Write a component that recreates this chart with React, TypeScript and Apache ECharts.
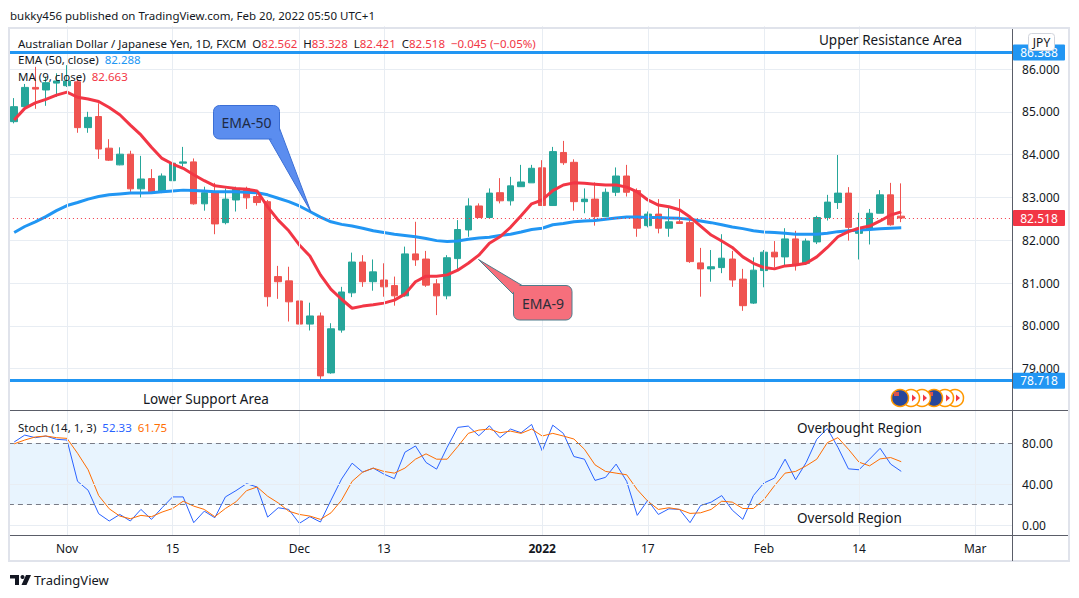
import React, { useEffect, useRef } from 'react';
import * as echarts from 'echarts';

const FONT = "'Noto Sans', 'Open Sans', sans-serif";

const dates = [
  '2021-10-25','2021-10-26','2021-10-27','2021-10-28','2021-10-29',
  '2021-11-01','2021-11-02','2021-11-03','2021-11-04','2021-11-05',
  '2021-11-08','2021-11-09','2021-11-10','2021-11-11','2021-11-12',
  '2021-11-15','2021-11-16','2021-11-17','2021-11-18','2021-11-19',
  '2021-11-22','2021-11-23','2021-11-24','2021-11-25','2021-11-26',
  '2021-11-29','2021-11-30',
  '2021-12-01','2021-12-02','2021-12-03',
  '2021-12-06','2021-12-07','2021-12-08','2021-12-09','2021-12-10',
  '2021-12-13','2021-12-14','2021-12-15','2021-12-16','2021-12-17',
  '2021-12-20','2021-12-21','2021-12-22','2021-12-23','2021-12-24',
  '2021-12-27','2021-12-28','2021-12-29','2021-12-30','2021-12-31',
  '2022-01-03','2022-01-04','2022-01-05','2022-01-06','2022-01-07',
  '2022-01-10','2022-01-11','2022-01-12','2022-01-13','2022-01-14',
  '2022-01-17','2022-01-18','2022-01-19','2022-01-20','2022-01-21',
  '2022-01-24','2022-01-25','2022-01-26','2022-01-27','2022-01-28',
  '2022-01-31',
  '2022-02-01','2022-02-02','2022-02-03','2022-02-04',
  '2022-02-07','2022-02-08','2022-02-09','2022-02-10','2022-02-11',
  '2022-02-14','2022-02-15','2022-02-16','2022-02-17','2022-02-18',
  '2022-02-21','2022-02-22','2022-02-23','2022-02-24','2022-02-25',
  '2022-02-28','2022-03-01','2022-03-02','2022-03-03','2022-03-04',
];

const timeTicks: Record<string, string> = {
  '2021-11-01': 'Nov', '2021-11-15': '15', '2021-12-01': 'Dec', '2021-12-13': '13',
  '2022-01-03': '2022', '2022-01-17': '17', '2022-02-01': 'Feb', '2022-02-14': '14', '2022-03-01': 'Mar',
};

const opens = [
  84.77, 85.12, 85.57, 85.51, 85.67, 85.61, 85.70, 84.63, 84.89, 84.15,
  83.76, 84.01, 83.20, 83.44, 83.13, 83.39, 83.80, 83.83, 82.85, 83.10,
  82.41, 82.94, 83.21, 83.02, 82.90, 81.15, 81.05, 80.58, 80.04, 80.23,
  78.90, 79.90, 80.77, 81.49, 81.03, 81.07, 80.94, 80.70, 81.68, 81.56,
  80.98, 80.70, 81.57, 82.24, 82.80, 82.53, 83.11, 82.92, 83.25, 83.34,
  83.69, 82.81, 84.05, 83.82, 82.90, 82.96, 82.55, 83.12, 83.50, 83.16,
  82.34, 82.61, 82.28, 82.43, 82.41, 81.47, 81.33, 81.36, 81.56, 81.09,
  80.53, 81.29, 81.72, 81.61, 82.03, 81.46, 81.96, 82.53, 82.88, 83.10,
  82.16, 82.25, 82.63, 83.06, 82.562,
];
const closes = [
  85.12, 85.57, 85.53, 85.68, 85.72, 85.72, 84.63, 84.87, 84.13, 83.87,
  84.01, 83.20, 83.43, 83.13, 83.50, 83.80, 83.83, 82.85, 83.11, 82.38,
  82.96, 83.20, 82.99, 82.88, 80.68, 81.03, 80.56, 80.04, 80.23, 78.83,
  79.93, 80.79, 81.49, 81.03, 81.26, 80.91, 80.70, 81.68, 81.54, 80.95,
  80.70, 81.59, 82.25, 82.80, 82.53, 83.10, 82.92, 83.27, 83.36, 83.68,
  82.81, 84.07, 83.81, 82.90, 82.96, 82.55, 83.12, 83.50, 83.12, 82.28,
  82.61, 82.28, 82.43, 82.39, 81.50, 81.33, 81.38, 81.58, 81.07, 80.47,
  81.30, 81.72, 81.61, 82.03, 81.44, 81.98, 82.53, 82.89, 83.10, 82.30,
  82.28, 82.63, 83.06, 82.36, 82.518,
];
const lows = [
  84.73, 85.08, 85.07, 85.14, 85.35, 85.58, 84.51, 84.51, 83.90, 83.85,
  83.75, 83.13, 83.00, 83.12, 83.10, 83.38, 83.72, 82.83, 82.69, 82.14,
  82.37, 82.67, 82.73, 82.81, 80.45, 80.63, 80.10, 80.03, 79.89, 78.76,
  78.88, 79.84, 80.67, 80.91, 80.82, 80.68, 80.47, 80.68, 81.40, 80.91,
  80.25, 80.62, 81.29, 82.08, 82.52, 82.52, 82.86, 82.81, 83.25, 83.34,
  82.80, 82.80, 83.76, 82.69, 82.63, 82.34, 82.55, 83.03, 83.02, 82.08,
  82.30, 82.16, 82.08, 82.39, 81.47, 80.68, 81.03, 81.23, 80.91, 80.35,
  80.51, 80.90, 81.36, 81.38, 81.29, 81.42, 81.91, 82.46, 82.73, 81.99,
  81.55, 81.90, 82.63, 82.34, 82.421,
];
const highs = [
  85.32, 85.65, 86.05, 85.82, 85.90, 86.09, 85.75, 85.00, 85.20, 84.36,
  84.17, 84.09, 83.97, 83.66, 83.56, 83.94, 84.18, 83.91, 83.25, 83.34,
  83.21, 83.25, 83.25, 83.17, 82.94, 81.40, 81.38, 81.47, 80.54, 80.31,
  80.06, 80.91, 81.71, 81.65, 81.55, 81.46, 81.15, 81.85, 82.43, 81.75,
  81.09, 81.65, 82.47, 82.98, 82.86, 83.21, 83.45, 83.48, 83.76, 83.76,
  83.87, 84.18, 84.32, 83.89, 83.21, 83.35, 83.21, 83.70, 83.76, 83.21,
  82.67, 82.96, 82.80, 82.96, 82.47, 81.82, 81.77, 82.14, 81.75, 81.33,
  81.60, 81.77, 81.98, 82.28, 82.22, 82.04, 82.57, 83.06, 83.99, 83.24,
  82.64, 82.73, 83.17, 83.34, 83.328,
];

const ma9 = [
  84.81, 85.08, 85.21, 85.29, 85.39, 85.46, 85.34, 85.30, 85.24, 85.10,
  84.93, 84.69, 84.46, 84.17, 83.91, 83.78, 83.68, 83.53, 83.39, 83.27,
  83.24, 83.21, 83.19, 83.15, 82.78, 82.47, 82.22, 81.89, 81.63, 81.19,
  80.85, 80.62, 80.41, 80.46, 80.49, 80.53, 80.60, 80.74, 81.03, 81.16,
  81.16, 81.19, 81.30, 81.46, 81.65, 81.93, 82.08, 82.30, 82.57, 82.85,
  82.94, 83.16, 83.29, 83.34, 83.33, 83.31, 83.29, 83.29, 83.24, 83.13,
  82.94, 82.82, 82.78, 82.71, 82.54, 82.33, 82.12, 81.98, 81.83, 81.61,
  81.46, 81.36, 81.33, 81.40, 81.42, 81.46, 81.61, 81.83, 82.08, 82.20,
  82.28, 82.33, 82.45, 82.59, 82.663,
];
const ema50 = [
  82.18, 82.32, 82.43, 82.55, 82.69, 82.81, 82.88, 82.96, 83.02, 83.06,
  83.08, 83.10, 83.10, 83.11, 83.13, 83.15, 83.17, 83.16, 83.15, 83.13,
  83.13, 83.13, 83.12, 83.11, 83.06, 82.98, 82.90, 82.80, 82.67, 82.54,
  82.43, 82.37, 82.33, 82.28, 82.22, 82.18, 82.14, 82.11, 82.08, 82.04,
  81.99, 81.97, 81.98, 82.02, 82.05, 82.07, 82.11, 82.14, 82.19, 82.25,
  82.28, 82.36, 82.39, 82.43, 82.45, 82.46, 82.49, 82.52, 82.54, 82.54,
  82.53, 82.53, 82.52, 82.51, 82.49, 82.45, 82.41, 82.36, 82.31, 82.27,
  82.22, 82.19, 82.18, 82.16, 82.14, 82.14, 82.14, 82.16, 82.20, 82.22,
  82.24, 82.25, 82.27, 82.28, 82.288,
];
const stochK = [
  81.0, 87.7, 85.2, 86.8, 83.6, 82.9, 42.6, 33.9, 11.0, 3.9,
  10.3, 3.9, 15.2, 5.5, 16.8, 27.4, 27.4, 2.3, 13.5, 7.1,
  27.4, 33.5, 40.3, 37.1, 7.7, 16.8, 15.2, 1.6, 8.1, 2.9,
  24.2, 44.8, 60.3, 51.6, 55.5, 49.7, 45.2, 71.0, 77.1, 61.0,
  54.5, 75.8, 95.2, 96.5, 87.1, 96.8, 85.2, 93.6, 90.0, 98.1,
  72.3, 97.4, 89.4, 66.8, 64.2, 43.5, 46.5, 59.4, 42.6, 9.4,
  24.2, 10.3, 15.8, 15.2, 2.3, 19.0, 22.3, 28.7, 14.5, 5.5,
  28.7, 41.0, 45.8, 64.2, 44.2, 61.0, 83.6, 94.2, 75.8, 54.8,
  53.9, 64.2, 74.8, 59.4, 52.33,
];
const stochD = [
  79.2, 82.9, 85.9, 86.8, 85.2, 84.5, 70.0, 53.9, 28.7, 15.8,
  8.7, 6.1, 9.4, 8.1, 12.6, 16.1, 23.2, 18.4, 15.2, 8.1,
  16.1, 22.6, 33.5, 37.1, 28.1, 21.6, 13.5, 10.3, 8.7, 5.5,
  11.9, 24.2, 42.6, 51.6, 55.5, 52.3, 50.6, 55.5, 64.2, 69.4,
  64.2, 64.2, 76.5, 89.4, 92.6, 93.6, 90.0, 91.6, 89.4, 93.6,
  86.8, 89.4, 86.8, 83.9, 73.9, 58.7, 52.3, 50.6, 49.0, 34.5,
  23.2, 15.2, 16.8, 15.2, 11.3, 11.9, 15.2, 23.2, 22.3, 16.1,
  16.1, 24.8, 38.4, 50.6, 52.3, 57.7, 64.2, 80.3, 85.2, 73.9,
  61.3, 57.7, 64.5, 65.8, 61.75,
];

const resistanceLevel = 86.388;
const supportLevel = 78.718;
const lastPrice = 82.518;
const stochLevels = [20, 80];
const stochGrid = [0, 40];
const stochTicks = [0, 40, 80];

const GRID_COLOR = '#e8edf3';
const TEXT = '#131722';
const UP = '#26a69a';
const DOWN = '#ef5350';
const BLUE = '#2196f3';
const RED = '#f23645';

function txt(x: number, y: number, text: string, o: any = {}) {
  return {
    type: 'text', x, y, z: 100, silent: true,
    style: {
      text, fill: o.fill || TEXT, fontSize: o.size || 12, fontFamily: FONT,
      fontWeight: o.weight || 'normal', align: o.align || 'left', verticalAlign: 'middle',
    },
  };
}

function rs(fill: string, size = 11.5) {
  return { fill, color: fill, fontSize: size, fontFamily: FONT };
}

export default function App() {
  const ref = useRef<HTMLDivElement>(null);
  useEffect(() => {
    if (!ref.current) return;
    const chart = echarts.init(ref.current, undefined, { renderer: 'svg' });
    const tickDates = dates.filter((d) => timeTicks[d] !== undefined);
    const vLines = tickDates.map((d) => ({ xAxis: d }));
    const candles = opens.map((o, i) => [o, closes[i], lows[i], highs[i]]);

    const option: any = {
      animation: false,
      backgroundColor: '#ffffff',
      textStyle: { fontFamily: FONT },
      grid: [
        { left: 8.92, width: 1003.2, top: 26.2, height: 385.2 },
        { left: 8.92, width: 1003.2, top: 410.2, height: 125.05 },
      ],
      xAxis: [
        { type: 'category', gridIndex: 0, data: dates, boundaryGap: true, show: false },
        {
          type: 'category', gridIndex: 1, data: dates, boundaryGap: true,
          axisLine: { show: false }, axisTick: { show: false }, splitLine: { show: false },
          axisLabel: {
            interval: (_i: number, v: string) => timeTicks[v] !== undefined,
            formatter: (v: string) => (timeTicks[v] === '2022' ? '{b|2022}' : timeTicks[v] || ''),
            color: TEXT, fontSize: 12, fontFamily: FONT, margin: 7,
            rich: { b: { fontWeight: 'bold', color: TEXT, fontSize: 12, fontFamily: FONT } },
          },
        },
      ],
      yAxis: [
        {
          type: 'value', gridIndex: 0, position: 'right', min: 78, max: 87, interval: 1,
          axisLine: { show: false }, axisTick: { show: false },
          splitLine: { show: true, showMinLine: false, showMaxLine: false, lineStyle: { color: GRID_COLOR, width: 1 } },
          axisLabel: { showMinLabel: false, showMaxLabel: false, formatter: (v: number) => v.toFixed(3), color: TEXT, fontSize: 12, fontFamily: FONT, margin: 10 },
        },
        {
          type: 'value', gridIndex: 1, position: 'right', min: -10, max: 112, interval: 2,
          axisLine: { show: false }, axisTick: { show: false }, splitLine: { show: false },
          axisLabel: { formatter: (v: number) => (stochTicks.includes(v) ? v.toFixed(2) : ''), color: TEXT, fontSize: 12, fontFamily: FONT, margin: 10 },
        },
      ],
      series: [
        {
          type: 'line', name: 'grid-main', xAxisIndex: 0, yAxisIndex: 0, data: closes, symbol: 'none',
          lineStyle: { opacity: 0 }, silent: true, z: 1,
          markLine: { silent: true, symbol: ['none', 'none'], label: { show: false }, lineStyle: { color: GRID_COLOR, width: 1, type: 'solid' }, data: vLines },
        },
        {
          type: 'candlestick', name: 'AUDJPY', xAxisIndex: 0, yAxisIndex: 0, data: candles, barWidth: 7, z: 2,
          itemStyle: { color: UP, color0: DOWN, borderColor: UP, borderColor0: DOWN, borderWidth: 1 },
        },
        {
          type: 'line', name: 'EMA 50', xAxisIndex: 0, yAxisIndex: 0, data: ema50, symbol: 'none', z: 3,
          lineStyle: { color: BLUE, width: 3 },
        },
        {
          type: 'line', name: 'MA 9', xAxisIndex: 0, yAxisIndex: 0, data: ma9, symbol: 'none', z: 3,
          lineStyle: { color: RED, width: 3 },
        },
        {
          type: 'line', name: 'levels', xAxisIndex: 0, yAxisIndex: 0, data: closes, symbol: 'none',
          lineStyle: { opacity: 0 }, silent: true, z: 4,
          markLine: {
            silent: true, symbol: ['none', 'none'], label: { show: false },
            data: [
              { yAxis: lastPrice, lineStyle: { color: RED, width: 1, type: [1, 3] } },
              { yAxis: resistanceLevel, lineStyle: { color: BLUE, width: 3, type: 'solid' } },
              { yAxis: supportLevel, lineStyle: { color: BLUE, width: 3, type: 'solid' } },
            ],
          },
        },
        {
          type: 'line', name: 'grid-stoch', xAxisIndex: 1, yAxisIndex: 1, data: stochK, symbol: 'none',
          lineStyle: { opacity: 0 }, silent: true, z: 1,
          markArea: { silent: true, itemStyle: { color: 'rgba(33,150,243,0.1)' }, data: [[{ yAxis: stochLevels[0] }, { yAxis: stochLevels[1] }]] },
          markLine: {
            silent: true, symbol: ['none', 'none'], label: { show: false },
            lineStyle: { color: GRID_COLOR, width: 1, type: 'solid' },
            data: [
              ...vLines,
              ...stochGrid.map((v) => ({ yAxis: v })),
              ...stochLevels.map((v) => ({ yAxis: v, lineStyle: { color: '#787b86', width: 1, type: [5, 4] } })),
            ],
          },
        },
        {
          type: 'line', name: '%K', xAxisIndex: 1, yAxisIndex: 1, data: stochK, symbol: 'none', z: 3,
          lineStyle: { color: '#2962ff', width: 1 },
        },
        {
          type: 'line', name: '%D', xAxisIndex: 1, yAxisIndex: 1, data: stochD, symbol: 'none', z: 3,
          lineStyle: { color: '#ff6d00', width: 1 },
        },
      ],
    };
    chart.setOption(option);

    const priceBox = (value: number, bg: string) => {
      const y = chart.convertToPixel({ yAxisIndex: 0 } as any, value) as number;
      return [
        { type: 'rect', z: 100, silent: true, shape: { x: 1013, y: y - 8, width: 52, height: 16, r: 1 }, style: { fill: bg } },
        txt(1039, y, value.toFixed(3), { fill: '#ffffff', align: 'center' }),
      ];
    };

    const graphic: any[] = [
      txt(10, 15, 'bukky456 published on TradingView.com, Feb 20, 2022 05:50 UTC+1', { size: 11.5 }),
      { type: 'rect', z: 100, silent: true, shape: { x: 9, y: 28, width: 1060, height: 533 }, style: { fill: 'none', stroke: '#e0e3eb', lineWidth: 2 } },
      { type: 'line', z: 100, silent: true, shape: { x1: 1012.5, y1: 29, x2: 1012.5, y2: 561 }, style: { stroke: '#5a5d68', lineWidth: 1 } },
      { type: 'line', z: 100, silent: true, shape: { x1: 10, y1: 410.5, x2: 1068, y2: 410.5 }, style: { stroke: '#5a5d68', lineWidth: 1 } },
      { type: 'line', z: 100, silent: true, shape: { x1: 10, y1: 535.5, x2: 1068, y2: 535.5 }, style: { stroke: '#5a5d68', lineWidth: 1 } },
      {
        type: 'text', x: 18, y: 43, z: 100, silent: true,
        style: {
          text: '{n|Australian Dollar / Japanese Yen, 1D, FXCM  O}{r|82.562  }{n|H}{r|83.328  }{n|L}{r|82.421  }{n|C}{r|82.518  −0.045 (−0.05%)}',
          verticalAlign: 'middle', fontSize: 11.5, fontFamily: FONT,
          rich: { n: rs(TEXT), r: rs(RED) },
        },
      },
      {
        type: 'text', x: 18, y: 59, z: 100, silent: true,
        style: { text: '{n|EMA (50, close)  }{b|82.288}', verticalAlign: 'middle', fontSize: 11.5, fontFamily: FONT, rich: { n: rs(TEXT), b: rs(BLUE) } },
      },
      {
        type: 'text', x: 18, y: 76, z: 100, silent: true,
        style: { text: '{n|MA (9, close)  }{r|82.663}', verticalAlign: 'middle', fontSize: 11.5, fontFamily: FONT, rich: { n: rs(TEXT), r: rs(RED) } },
      },
      {
        type: 'text', x: 18, y: 427, z: 100, silent: true,
        style: { text: '{n|Stoch (14, 1, 3)  }{b|52.33  }{o|61.75}', verticalAlign: 'middle', fontSize: 11.5, fontFamily: FONT, rich: { n: rs(TEXT), b: rs('#2962ff'), o: rs('#ff6d00') } },
      },
      txt(819, 40, 'Upper Resistance Area', { size: 13.5 }),
      txt(143, 399, 'Lower Support Area', { size: 13.5 }),
      txt(797, 428, 'Overbought Region', { size: 13.5 }),
      txt(797, 518, 'Oversold Region', { size: 13.5 }),
      // EMA-50 callout
      { type: 'polygon', z: 100, silent: true, shape: { points: [[268, 137], [279, 127], [311, 212]] }, style: { fill: '#5b8def', stroke: '#3b6fd6', lineWidth: 1 } },
      { type: 'rect', z: 100, silent: true, shape: { x: 213.5, y: 105.5, width: 66, height: 33.5, r: 6 }, style: { fill: '#5b8def', stroke: '#3b6fd6', lineWidth: 1 } },
      { type: 'polygon', z: 100, silent: true, shape: { points: [[270, 136], [278.5, 128], [300, 185]] }, style: { fill: '#5b8def' } },
      txt(246.5, 122.5, 'EMA-50', { size: 14, align: 'center', fill: '#1e2a44' }),
      // EMA-9 callout
      { type: 'polygon', z: 100, silent: true, shape: { points: [[478.5, 259.5], [523, 286], [514, 295]] }, style: { fill: '#f66f7c', stroke: '#4f7d8c', lineWidth: 1 } },
      { type: 'rect', z: 100, silent: true, shape: { x: 513.5, y: 285.5, width: 58.5, height: 34.5, r: 6 }, style: { fill: '#f66f7c', stroke: '#4f7d8c', lineWidth: 1 } },
      { type: 'polygon', z: 100, silent: true, shape: { points: [[500, 274], [522, 287], [515, 294]] }, style: { fill: '#f66f7c' } },
      txt(543, 303, 'EMA-9', { size: 14, align: 'center', fill: '#2a2e39' }),
      // price-scale boxes
      ...priceBox(lastPrice, RED),
      ...priceBox(supportLevel, BLUE),
      ...priceBox(resistanceLevel, BLUE),
      // JPY box on top of the resistance box
      { type: 'rect', z: 100, silent: true, shape: { x: 1028.5, y: 33.5, width: 26, height: 17, r: 3 }, style: { fill: '#ffffff', stroke: '#d1d4dc', lineWidth: 1 } },
      txt(1041.5, 42, 'JPY', { size: 12, align: 'center', fill: TEXT }),
      // TradingView logo
      { type: 'rect', z: 100, silent: true, shape: { x: 10, y: 575, width: 9, height: 3.5 }, style: { fill: TEXT } },
      { type: 'rect', z: 100, silent: true, shape: { x: 15, y: 575, width: 4, height: 10 }, style: { fill: TEXT } },
      { type: 'circle', z: 100, silent: true, shape: { cx: 22.5, cy: 577, r: 2 }, style: { fill: TEXT } },
      { type: 'polygon', z: 100, silent: true, shape: { points: [[26, 575], [31, 575], [26.5, 585], [21.5, 585]] }, style: { fill: TEXT } },
      txt(34, 580, 'TradingView', { size: 13 }),
    ];

    const iconX = [955, 945, 934, 922, 911, 900];
    iconX.forEach((cx, k) => {
      const flag = k === 2 || k === 5;
      graphic.push({ type: 'circle', z: 100, silent: true, shape: { cx, cy: 398, r: 8.5 }, style: { fill: flag ? '#27479b' : '#ffffff', stroke: '#ff9800', lineWidth: 1.5 } });
      if (flag) {
        graphic.push({ type: 'rect', z: 100, silent: true, shape: { x: cx - 6, y: 392, width: 5, height: 4 }, style: { fill: '#d9534f' } });
      } else {
        graphic.push({ type: 'polygon', z: 100, silent: true, shape: { points: [[cx + 1, 394.5], [cx + 5, 398], [cx + 1, 401.5]] }, style: { fill: RED } });
      }
    });

    chart.setOption({ graphic: { elements: graphic } });
    return () => chart.dispose();
  }, []);
  return <div ref={ref} style={{ position: 'absolute', left: 0, top: 0, width: 1079, height: 598, background: '#ffffff' }} />;
}
